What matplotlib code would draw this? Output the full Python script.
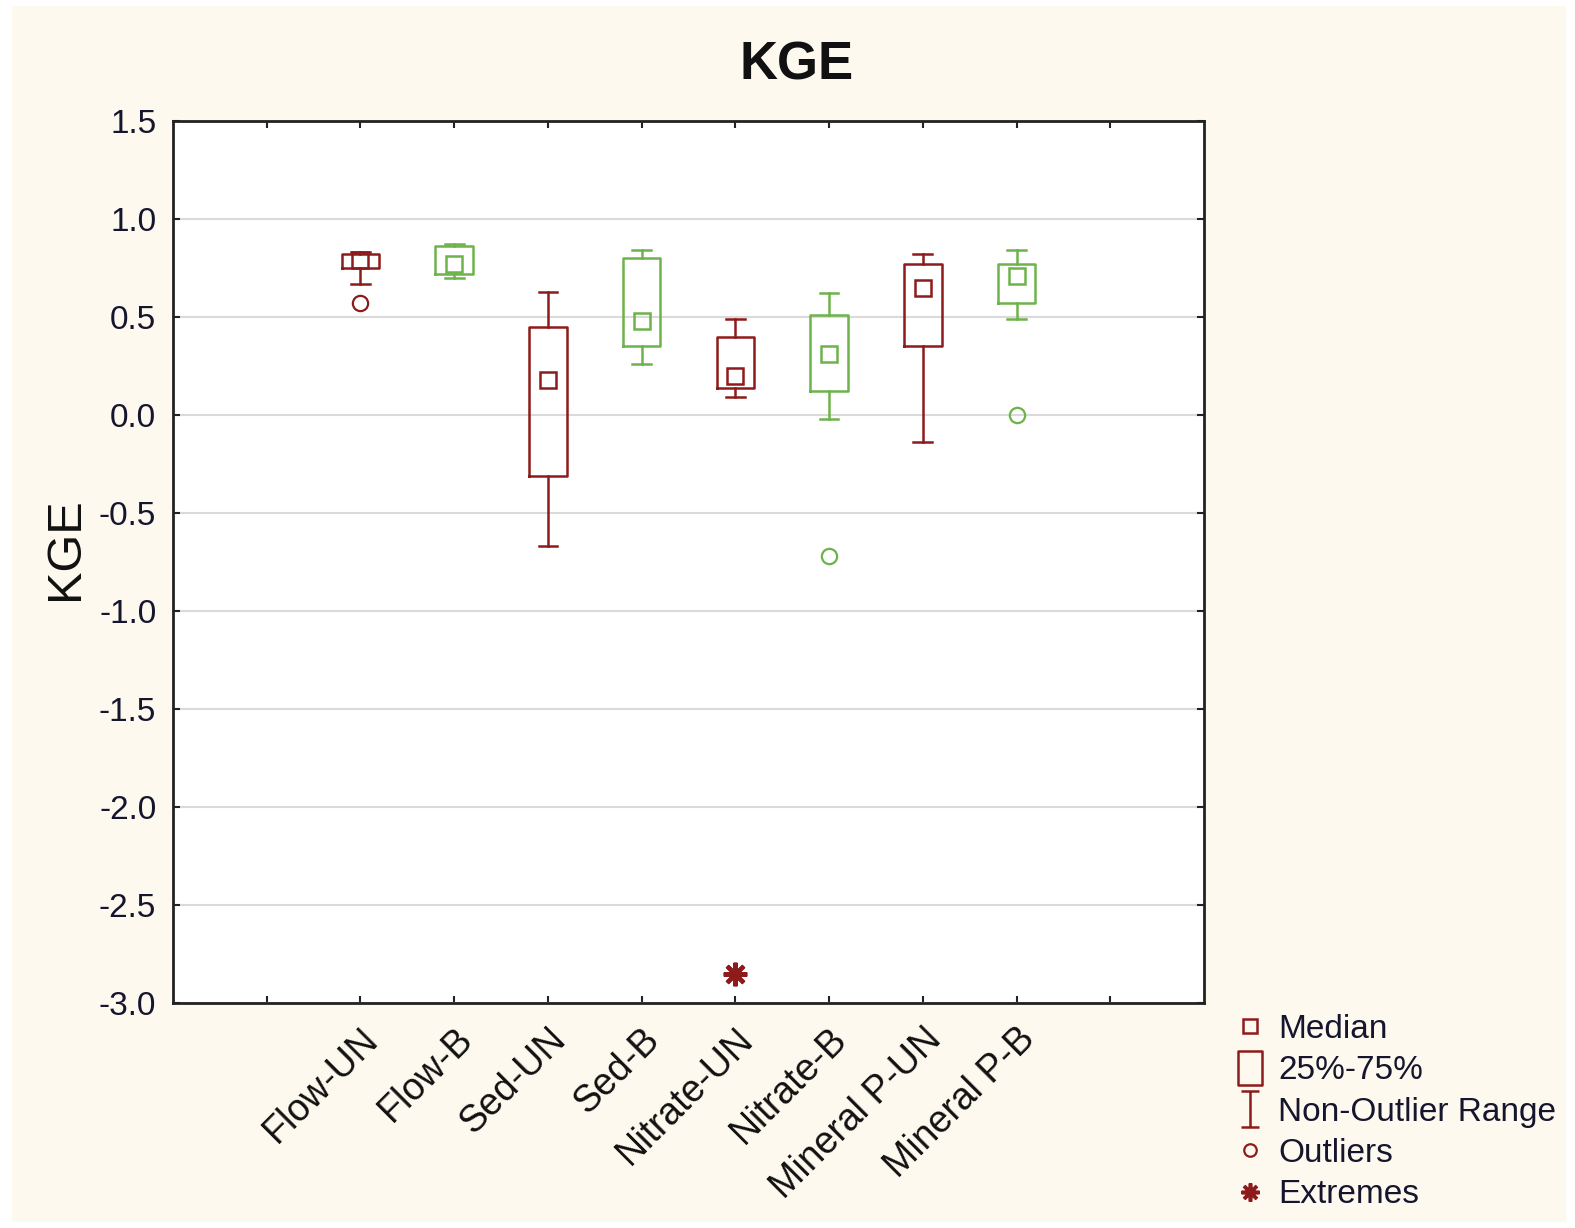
import matplotlib
matplotlib.use("Agg")
import matplotlib.pyplot as plt
from matplotlib.lines import Line2D
from matplotlib.patches import Rectangle
from matplotlib.path import Path
import numpy as np

plt.rcParams['font.family'] = ['Liberation Sans', 'DejaVu Sans']

# ---- data ----
categories = ["Flow-UN", "Flow-B", "Sed-UN", "Sed-B", "Nitrate-UN", "Nitrate-B",
              "Mineral P-UN", "Mineral P-B"]
groups = ["UN", "B", "UN", "B", "UN", "B", "UN", "B"]
medians = [0.79, 0.77, 0.18, 0.48, 0.20, 0.31, 0.65, 0.71]
q1 = [0.75, 0.72, -0.31, 0.35, 0.14, 0.12, 0.35, 0.57]
q3 = [0.82, 0.86, 0.45, 0.80, 0.40, 0.51, 0.77, 0.77]
whisker_lo = [0.67, 0.70, -0.67, 0.26, 0.09, -0.02, -0.14, 0.49]
whisker_hi = [0.83, 0.87, 0.63, 0.84, 0.49, 0.62, 0.82, 0.84]
outliers = [[0.57], [], [], [], [], [-0.72], [], [0.0]]
extremes = [[], [], [], [], [-2.85], [], [], []]

yticks = [1.5, 1.0, 0.5, 0.0, -0.5, -1.0, -1.5, -2.0, -2.5, -3.0]
ytick_labels = ["1.5", "1.0", "0.5", "0.0", "-0.5", "-1.0", "-1.5", "-2.0", "-2.5", "-3.0"]

# ---- styles ----
RED = "#8E1B1B"
GREEN = "#6DB24A"
color_map = {"UN": RED, "B": GREEN}
TXT = "#15152e"

W, H = 1575, 1228
fig = plt.figure(figsize=(15.75, 12.28), dpi=100)
fig.patch.set_facecolor("white")
fig.patches.append(Rectangle((12 / W, 1 - 1222 / H), (1566 - 12) / W, (1222 - 6) / H,
                             transform=fig.transFigure, facecolor="#FEF9EE", edgecolor="none", zorder=-10))

ax = fig.add_axes([173 / W, 1 - 1003 / H, (1204 - 173) / W, (1003 - 121) / H])
ax.set_facecolor("white")

positions = np.arange(2, 2 + len(categories))
stats = []
for i in range(len(categories)):
    stats.append(dict(med=medians[i], q1=q1[i], q3=q3[i], whislo=whisker_lo[i],
                      whishi=whisker_hi[i], fliers=[]))

for i, pos in enumerate(positions):
    c = color_map[groups[i]]
    ax.bxp([stats[i]], positions=[pos], widths=0.4, capwidths=0.2, showfliers=False,
           boxprops=dict(color=c, linewidth=1.8),
           whiskerprops=dict(color=c, linewidth=1.8),
           capprops=dict(color=c, linewidth=1.8),
           medianprops=dict(linewidth=0), manage_ticks=False, zorder=3)
    ax.plot([pos], [medians[i]], marker="s", ms=11, mfc="none", mec=c, mew=1.8,
            linestyle="none", zorder=4)
    if outliers[i]:
        ax.plot([pos] * len(outliers[i]), outliers[i], marker="o", ms=11, mfc="none",
                mec=c, mew=1.6, linestyle="none", zorder=4)
    if extremes[i]:
        ax.plot([pos] * len(extremes[i]), extremes[i], marker=(8, 2, 0), ms=17,
                mec=c, mew=3.0, linestyle="none", zorder=4)

ax.set_xlim(0, 11)
ax.set_ylim(-3.0, 1.5)
ax.set_yticks(yticks)
ax.set_yticklabels(ytick_labels, fontsize=24, color=TXT)
ax.set_xticks(positions)
ax.set_xticklabels(categories, fontsize=27, rotation=45, ha="right", va="top",
                   rotation_mode="anchor", color="#111111")
ax.set_xticks(np.arange(1, 11), minor=True)
ax.tick_params(axis="both", which="both", direction="in", length=5, width=1.5,
               top=True, right=True, color="#222222")
ax.tick_params(axis="x", which="major", pad=13)
ax.tick_params(axis="y", pad=12)
ax.yaxis.grid(True, color="#DADADA", linewidth=1.5, zorder=0)
ax.set_axisbelow(True)
for s in ax.spines.values():
    s.set_linewidth(2)
    s.set_color("#222222")

ax.set_ylabel("KGE", fontsize=35, color="#111111")
ax.yaxis.set_label_coords(-0.082, 0.515)
fig.text(797 / W, 1 - 66 / H, "KGE", fontsize=38, fontweight="bold",
         ha="center", va="center", color="#111111")

# ---- legend ----
ibar = Path([(-0.5, 1), (0.5, 1), (0, 1), (0, -1), (-0.5, -1), (0.5, -1)],
            [Path.MOVETO, Path.LINETO, Path.MOVETO, Path.LINETO, Path.MOVETO, Path.LINETO])
rect = Path([(-0.36, -0.5), (0.36, -0.5), (0.36, 0.5), (-0.36, 0.5), (-0.36, -0.5)],
            [Path.MOVETO, Path.LINETO, Path.LINETO, Path.LINETO, Path.CLOSEPOLY])
handles = [
    Line2D([], [], marker="s", ms=10, mfc="none", mec=RED, mew=1.8, linestyle="none"),
    Line2D([], [], marker=rect, ms=24, mfc="none", mec=RED, mew=1.8, linestyle="none"),
    Line2D([], [], marker=ibar, ms=26, mfc="none", mec=RED, mew=1.8, linestyle="none"),
    Line2D([], [], marker="o", ms=9, mfc="none", mec=RED, mew=1.6, linestyle="none"),
    Line2D([], [], marker=(8, 2, 0), ms=13, mec=RED, mew=2.6, linestyle="none"),
]
labels = ["Median", "25%-75%", "Non-Outlier Range", "Outliers", "Extremes"]
leg = fig.legend(handles, labels, loc="upper left", bbox_to_anchor=(1233 / W, 1 - 1014 / H),
                 frameon=False, fontsize=24, labelspacing=0.31, handlelength=1.0,
                 handletextpad=0.35, borderpad=0, borderaxespad=0)
for t in leg.get_texts():
    t.set_color(TXT)

fig.savefig("out.png", dpi=100, facecolor=fig.get_facecolor())
